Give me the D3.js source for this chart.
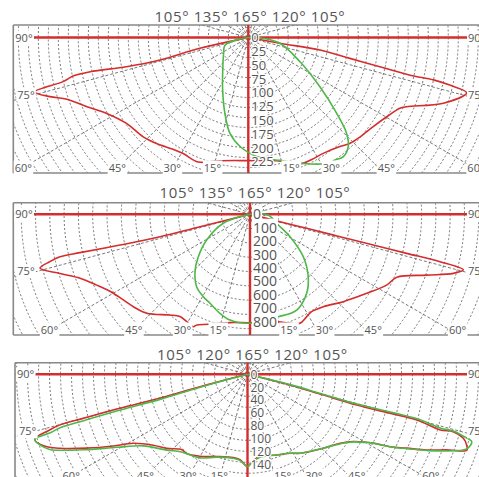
<!DOCTYPE html>
<html><head><meta charset="utf-8">
<script src="https://cdn.jsdelivr.net/npm/d3@7"></script>
<style>html,body{margin:0;padding:0;background:#fff;} svg{display:block;font-family:"Open Sans",sans-serif;}</style>
</head><body>
<script>
// ---------- data ----------
const titleLabels1 = ["105°","135°","165°","120°","105°"];
const titleLabels2 = ["105°","135°","165°","120°","105°"];
const titleLabels3 = ["105°","120°","165°","120°","105°"];
const bottomAngles = [15,30,45,60];
const sideAngles = [75,90];

const p1Ticks = [0,25,50,75,100,125,150,175,200,225];
const p1RedAngles = [-90,-77.8,-77.4,-75.7,-76.5,-77.8,-77.6,-76.6,-75.7,-73.4,-71.2,-66.8,-61.8,-54.8,-46.6,-40.9,-33.9,-29.3,-21.9,-12.9,0,12.9,23,27.5,32.9,40,43.9,48.4,54.5,60.2,65,66.4,71.4,75.8,76.7,77.1,76.9,77.5,78.4,80.1,79.6,90];
const p1RedValues = [0,15,90,165,227,293,325,345,399,375,347,318,291,270,262,254,244,241,243,229,223,229,248,249,250,258,266,271,278,289,303,313,373,408,375,344,301,244,188,132,58,0];
const p1GreenAngles = [-90,-78.7,-72.2,-54.8,-41.2,-26,-17.1,-10.8,-4.3,4,10,14.5,23,32.4,35.3,38.6,42.5,45.8,49.4,55.5,65,79.6,88,90];
const p1GreenValues = [0,17,44,55,70,106,144,177,198,216,224,230,248,270,272,276,268,248,211,157,103,58,22,0];

const p2Ticks = [0,100,200,300,400,500,600,700,800];
const p2RedAngles = [-90,-76.1,-76,-76.7,-77.3,-77.4,-76.7,-75.6,-72.7,-69.4,-65.2,-60,-51.6,-46.2,-38.5,-34.4,-30.5,-26.8,-25.7,-20.8,-10.5,0,10.5,14.8,20.2,24.6,29,32.3,38.4,46.9,55.9,62.6,66.8,71,73.8,75.4,76,76,76,76,76.1,76.1,90];
const p2RedValues = [0,384,692,997,1301,1453,1534,1618,1485,1355,1260,1178,1110,1067,960,925,930,940,917,878,822,809,818,830,867,895,873,860,880,954,1052,1148,1192,1394,1580,1645,1461,1205,948,692,436,231,0];
const p2GreenAngles = [-90,-71.4,-59.3,-50.6,-43.8,-36.4,-29.5,-24.2,-16.9,-10.7,0,15.4,26,35.7,43,51.5,60.8,69.3,88,90];
const p2GreenValues = [0,210,376,499,593,671,707,728,772,803,813,793,795,725,637,508,342,226,134,0];

const p3Ticks = [0,20,40,60,80,100,120,140];
const p3RedAngles = [-90,-75.4,-74.7,-75.1,-75,-74.9,-74.3,-73,-70.7,-68.5,-65.3,-61.9,-58.9,-53.1,-47.5,-41,-37.6,-30.2,-20.5,-9.7,-5,0,2.8,8.6,19.9,28.3,33.6,45.7,53.3,57.5,61.3,63.1,65.1,67.1,69.2,70.9,72.1,73.5,74.4,73.9,74.9,74.7,74.3,74.7,75.9,90];
const p3RedValues = [0,76,141,205,264,301,318,345,335,313,274,236,207,183,170,155,155,147,136,131,133,143,136,129,133,139,147,164,179,194,222,248,272,302,330,360,357,349,331,311,272,229,176,122,68,0];
const p3GreenAngles = [-90,-74.8,-74,-74.3,-74.2,-74.1,-73.5,-73,-71.2,-69.2,-65.3,-60.8,-55.5,-46.9,-40.4,-29.6,-20.4,-9.7,-5,0,2.8,8.6,19.9,28.3,33.6,45.7,53.3,57.5,61.3,63.1,65.1,67.1,69.6,71.2,73.3,74,74.6,74.4,75.3,75.2,74.8,75.2,76.4,90];
const p3GreenValues = [0,76,141,205,264,302,318,345,340,328,280,232,196,172,158,149,137,132,134,143,137,130,133,139,147,164,180,195,223,249,274,304,340,359,363,348,331,311,272,229,176,122,68,0];

// ---------- layout ----------
const RED = "#d42d2d", GREEN = "#4db848", GRID = "#555", TXT = "#555";
const panels = [
  {title:titleLabels1, ticks:p1Ticks, red:[p1RedAngles,p1RedValues], green:[p1GreenAngles,p1GreenValues],
   cx:248.3, cy:37.5, pxMax:124.2, top:25, bottom:173, left:13.3, ringPx:10, titleX:250, titleY:21.5, valueFont:13, labelBg:false, axisGap:null},
  {title:titleLabels2, ticks:p2Ticks, red:[p2RedAngles,p2RedValues], green:[p2GreenAngles,p2GreenValues],
   cx:250, cy:214.3, pxMax:107.2, top:202.7, bottom:335, left:13.3, ringPx:14.3, titleX:255, titleY:198, valueFont:14, labelBg:true, axisGap:[247,263]},
  {title:titleLabels3, ticks:p3Ticks, red:[p3RedAngles,p3RedValues], green:[p3GreenAngles,p3GreenValues],
   cx:247.5, cy:374.3, pxMax:90.3, top:362.7, bottom:481, left:15, ringPx:11, titleX:252.5, titleY:360, valueFont:12, labelBg:false, axisGap:null}
];

const W = 479, H = 477;
const svg = d3.select("body").append("svg").attr("width",W).attr("height",H);
const defs = svg.append("defs");
const rad = d => d*Math.PI/180;

panels.forEach((p,i)=>{
  const clipId = "clip"+i;
  defs.append("clipPath").attr("id",clipId).append("rect")
    .attr("x",p.left).attr("y",p.top).attr("width",W-p.left).attr("height",p.bottom-p.top);
  const r = d3.scaleLinear().domain([0, d3.max(p.ticks)]).range([0, p.pxMax]);
  const g = svg.append("g");

  // grid
  const grid = g.append("g").attr("clip-path",`url(#${clipId})`)
    .append("g").attr("transform",`translate(${p.cx},${p.cy})`);
  grid.selectAll("circle").data(d3.range(1,30).map(k=>k*p.ringPx)).join("circle")
    .attr("r",d=>d).attr("fill","none").attr("stroke",GRID).attr("stroke-width",0.8).attr("stroke-dasharray","2,2");
  grid.selectAll("line.sp").data(d3.range(0,360,15)).join("line").attr("class","sp")
    .attr("x1",0).attr("y1",0)
    .attr("x2",d=>420*Math.sin(rad(d))).attr("y2",d=>420*Math.cos(rad(d)))
    .attr("stroke",GRID).attr("stroke-width",0.8).attr("stroke-dasharray","3,2");

  // frame
  const fr = g.append("g").attr("stroke","#888").attr("fill","none");
  fr.append("line").attr("x1",p.left).attr("x2",W).attr("y1",p.top).attr("y2",p.top).attr("stroke-width",1.4);
  fr.append("line").attr("x1",p.left).attr("x2",p.left).attr("y1",p.top).attr("y2",Math.min(p.bottom,H)).attr("stroke-width",1.6);
  if (p.bottom < H) fr.append("line").attr("x1",p.left).attr("x2",W).attr("y1",p.bottom).attr("y2",p.bottom).attr("stroke-width",1.4);

  // red axes
  const ax = g.append("g").attr("stroke",RED).attr("stroke-width",2.4);
  if (p.axisGap) {
    ax.append("line").attr("x1",34).attr("x2",p.axisGap[0]).attr("y1",p.cy).attr("y2",p.cy);
    ax.append("line").attr("x1",p.axisGap[1]).attr("x2",467).attr("y1",p.cy).attr("y2",p.cy);
  } else {
    ax.append("line").attr("x1",34).attr("x2",467).attr("y1",p.cy).attr("y2",p.cy);
  }
  ax.append("line").attr("x1",p.cx).attr("x2",p.cx).attr("y1",p.top).attr("y2",Math.min(p.bottom,H));

  // curves
  const line = d3.lineRadial()
    .angle(d=>Math.PI - rad(d[0]))
    .radius(d=>r(d[1]))
    .curve(d3.curveCatmullRom.alpha(0.5));
  const cg = g.append("g").attr("clip-path",`url(#${clipId})`)
    .append("g").attr("transform",`translate(${p.cx},${p.cy})`);
  [[p.red,RED],[p.green,GREEN]].forEach(([s,col])=>{
    const pts = s[0].map((a,k)=>[a,s[1][k]]);
    cg.append("path").attr("d",line(pts)).attr("fill","none").attr("stroke",col).attr("stroke-width",1.6).attr("stroke-linejoin","round");
  });

  // value labels
  const vl = g.append("g");
  p.ticks.forEach(v=>{
    const t = vl.append("text").attr("x",p.cx+3).attr("y",p.cy + r(v)).attr("dy","0.36em")
      .attr("font-size",p.valueFont).attr("fill",TXT).text(v);
    if (p.labelBg) {
      const b = t.node().getBBox();
      vl.insert("rect","text").attr("x",b.x-1).attr("y",b.y+1).attr("width",b.width+2).attr("height",b.height-2).attr("fill","#fff");
    } else {
      t.attr("stroke","#fff").attr("stroke-width",2.5).attr("paint-order","stroke").attr("stroke-linejoin","round");
    }
  });
  vl.raise();

  // angle labels
  const al = g.append("g");
  function angleLabel(x,y,txt,anchor){
    const t = al.append("text").attr("x",x).attr("y",y).attr("text-anchor",anchor)
      .attr("font-size",11).attr("fill",TXT).text(txt);
    const b = t.node().getBBox();
    al.insert("rect","text").attr("x",b.x-1).attr("y",b.y+1).attr("width",b.width+2).attr("height",b.height-1).attr("fill","#fff");
  }
  const base = p.bottom - 1.5;
  const dyc = base - 4 - p.cy;
  bottomAngles.forEach(a=>{
    [-1,1].forEach(side=>{
      let x = p.cx + side*dyc*Math.tan(rad(a)) + (side<0 ? -1 : 8);
      if (side<0) x = Math.max(x, p.left+10);
      else x = Math.min(x, 476);
      angleLabel(x, base, a+"°", "middle");
    });
  });
  sideAngles.forEach(a=>{
    const y = (a===90 ? p.cy : p.cy + 57) + 4;
    angleLabel(p.left + (a===90 ? 2 : 4), y, a+"°", "start");
    angleLabel(468, y, a+"°", "start");
  });

  // title
  g.append("text").attr("x",p.titleX).attr("y",p.titleY).attr("text-anchor","middle")
    .attr("font-size",15).attr("letter-spacing","0.6px").attr("fill",TXT).text(p.title.join(" "));
});
</script>
</body></html>
